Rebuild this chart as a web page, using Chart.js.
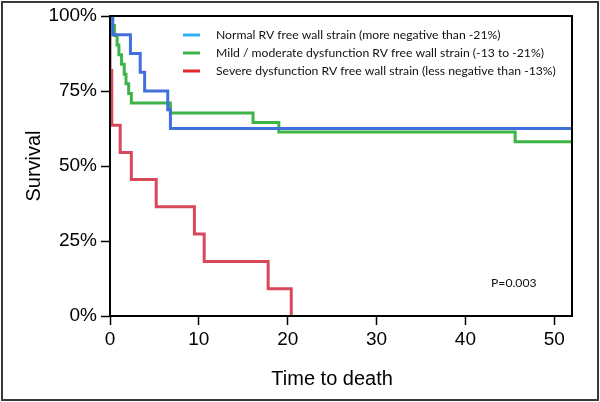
<!DOCTYPE html>
<html>
<head>
<meta charset="utf-8">
<script src="https://cdn.jsdelivr.net/npm/chart.js@4.4.1/dist/chart.umd.min.js"></script>
<style>
  html, body { margin: 0; padding: 0; background: #fff; }
  #wrap { width: 600px; height: 402px; }
</style>
</head>
<body>
<div id="wrap"><canvas id="km" width="600" height="402"></canvas></div>
<script>
// Kaplan-Meier steps (time, survival %)
const normalTime = [0, 0.3, 2.3, 3.4, 3.9, 6.5, 6.8, 52];
const normalSurv = [100, 93.75, 87.5, 81.25, 75, 68.75, 62.5, 62.5];

const mildTime = [0, 0.3, 0.5, 0.8, 1.0, 1.3, 1.6, 1.8, 2.1, 2.4, 6.8, 16.1, 19.0, 45.6, 52];
const mildSurv = [100, 96.8, 93.5, 90.3, 87.1, 83.9, 80.6, 77.4, 74.2, 71.0, 67.7, 64.5, 61.3, 58.1, 58.1];

const severeTime = [0, 0, 0.2, 1.15, 2.4, 5.2, 9.5, 10.6, 17.8, 20.4];
const severeSurv = [100, 81.8, 63.6, 54.5, 45.5, 36.4, 27.3, 18.2, 9.1, 0];

const xTicks = [0, 10, 20, 30, 40, 50];
const yTicks = [0, 25, 50, 75, 100];

const legendLabels = [
    'Normal RV free wall strain (more negative than -21%)',
    'Mild / moderate dysfunction RV free wall strain (-13 to -21%)',
    'Severe dysfunction RV free wall strain (less negative than -13%)'
];
const legendColors = ['#2fb0f0', '#3cb44a', '#e8262e'];
const lineColors = ['#416fdc', '#3db446', '#d9475a'];
const pValue = 'P=0.003';
const xTitle = 'Time to death';

const toPoints = (xs, ys) => xs.map((x, i) => ({ x: x, y: ys[i] }));
const axisFont = '"Liberation Sans", Arial, sans-serif';

const extras = {
    id: 'extras',
    afterDraw(chart) {
        const { ctx, chartArea: a } = chart;
        ctx.save();
        // plot box
        ctx.strokeStyle = '#000';
        ctx.lineWidth = 2;
        ctx.strokeRect(a.left, a.top, a.right - a.left, a.bottom - a.top);
        // outer frame
        ctx.strokeStyle = '#3a3a3a';
        ctx.strokeRect(2, 2, 596, 398);

        // x title sits under the middle of the tick range, not the plot box
        const xs = chart.scales.x;
        ctx.fillStyle = '#000';
        ctx.font = '20px ' + axisFont;
        ctx.textAlign = 'center';
        ctx.textBaseline = 'middle';
        ctx.fillText(xTitle, (xs.getPixelForValue(xTicks[0]) + xs.getPixelForValue(xTicks[xTicks.length - 1])) / 2, 379);

        // legend
        ctx.textAlign = 'left';
        ctx.font = '12.2px Lato, "Open Sans", sans-serif';
        ctx.fillStyle = '#111';
        legendLabels.forEach((txt, i) => {
            const y = 35 + i * 18;
            ctx.strokeStyle = legendColors[i];
            ctx.lineWidth = 3;
            ctx.beginPath();
            ctx.moveTo(183, y);
            ctx.lineTo(200, y);
            ctx.stroke();
            ctx.fillText(txt, 216, y);
        });

        ctx.fillText(pValue, 491, 283);
        ctx.restore();
    }
};

new Chart(document.getElementById('km'), {
    type: 'line',
    data: {
        datasets: [
            { label: legendLabels[0], data: toPoints(normalTime, normalSurv), borderColor: lineColors[0] },
            { label: legendLabels[1], data: toPoints(mildTime, mildSurv), borderColor: lineColors[1] },
            { label: legendLabels[2], data: toPoints(severeTime, severeSurv), borderColor: lineColors[2] }
        ].map(d => Object.assign(d, { stepped: true, borderWidth: 3, pointRadius: 0, fill: false }))
    },
    options: {
        responsive: false,
        animation: false,
        layout: { padding: { left: 0, top: 16, right: 28, bottom: 0 } },
        plugins: { legend: { display: false }, tooltip: { enabled: false } },
        scales: {
            x: {
                type: 'linear',
                min: 0,
                max: 52,
                afterBuildTicks: s => { s.ticks = xTicks.map(v => ({ value: v })); },
                afterFit: s => { s.height = 86; },
                grid: { drawOnChartArea: false, tickLength: 9, tickColor: '#000', tickWidth: 1.5 },
                border: { color: '#000', width: 2 },
                ticks: { color: '#000', padding: 3, maxRotation: 0, font: { family: axisFont, size: 19 } },
                title: { display: false }
            },
            y: {
                min: 0,
                max: 100,
                afterBuildTicks: s => { s.ticks = yTicks.map(v => ({ value: v })); },
                afterFit: s => { s.width = 110; },
                grid: { drawOnChartArea: false, tickLength: 9, tickColor: '#000', tickWidth: 1.5 },
                border: { color: '#000', width: 2 },
                ticks: {
                    color: '#000',
                    padding: 4,
                    font: { family: axisFont, size: 19 },
                    callback: v => v + '%'
                },
                title: {
                    display: true,
                    text: 'Survival',
                    color: '#000',
                    padding: { top: 22, bottom: 0 },
                    font: { family: axisFont, size: 20 }
                }
            }
        }
    },
    plugins: [extras]
});
</script>
</body>
</html>
